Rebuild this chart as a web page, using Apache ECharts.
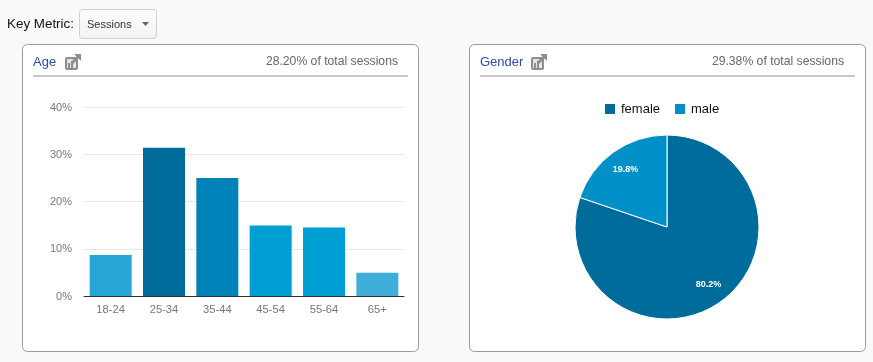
<!DOCTYPE html>
<html><head><meta charset="utf-8">
<style>html,body{margin:0;padding:0;background:#f9f9f9}#c{width:873px;height:362px}</style>
<script src="https://cdn.jsdelivr.net/npm/echarts@6/dist/echarts.min.js"></script>
</head><body><div id="c"></div>
<script>
const ageCategories = ['18-24','25-34','35-44','45-54','55-64','65+'];
const ageValues = [8.7,31.4,25,14.9,14.5,4.9];
const ageColors = ['#27a7d8','#006c9b','#0083b8','#009fd3','#009fd3','#40aeda'];
const genderNames = ['female','male'];
const genderValues = [80.2,19.8];
const genderColors = ['#006c9b','#0090c8'];
const yTicks = [0,10,20,30,40];
const font = '"Liberation Sans", Arial, sans-serif';
const pieCenter = [667,227];

function icon(x,y){
  const c='#8e8e8e';
  return [
    {type:'rect',shape:{x:x,y:y+3,width:13,height:13,r:2},style:{fill:c}},
    {type:'rect',shape:{x:x+2,y:y+5,width:9,height:9},style:{fill:'#e4e4e4'}},
    {type:'rect',shape:{x:x+3,y:y+9,width:2,height:5},style:{fill:c}},
    {type:'rect',shape:{x:x+6,y:y+7,width:2,height:7},style:{fill:c}},
    {type:'polyline',shape:{points:[[x+7,y+9],[x+14,y+2]]},style:{stroke:c,lineWidth:3,fill:null}},
    {type:'polygon',shape:{points:[[x+9,y],[x+16,y],[x+16,y+7]]},style:{fill:c}}
  ];
}
function card(x,w,title,tx,note,noteRight,ix){
  return [
    {type:'rect',shape:{x:x+.5,y:44.5,width:w,height:307,r:5},style:{fill:'#fff',stroke:'#9a9a9a',lineWidth:1}},
    {type:'text',style:{x:tx,y:62.5,text:title,fill:'#2a4f9e',font:'13px '+font,verticalAlign:'middle'}},
    {type:'text',style:{x:noteRight,y:61.5,text:note,fill:'#666',font:'12.2px '+font,align:'right',verticalAlign:'middle'}},
    {type:'rect',shape:{x:tx,y:75,width:w-21,height:2},style:{fill:'#c8c8c8'}},
    ...icon(ix,54)
  ];
}
const graphic = [
  {type:'text',style:{x:7,y:24,text:'Key Metric:',fill:'#111',font:'13.4px '+font,verticalAlign:'middle'}},
  {type:'rect',shape:{x:79.5,y:9.5,width:77,height:29,r:3},style:{fill:{type:'linear',x:0,y:0,x2:0,y2:1,colorStops:[{offset:0,color:'#fefefe'},{offset:1,color:'#f2f2f2'}]},stroke:'#cfcfcf',lineWidth:1}},
  {type:'text',style:{x:87,y:24.5,text:'Sessions',fill:'#333',font:'11px '+font,verticalAlign:'middle'}},
  {type:'polygon',shape:{points:[[142,22],[149,22],[145.5,26]]},style:{fill:'#666'}},
  ...card(22,396,'Age',33,'28.20% of total sessions',398,65),
  ...card(469,396,'Gender',480,'29.38% of total sessions',844,531)
].map(g=>Object.assign(g,{z:g.type==='rect'&&g.shape.height===307?-1:0}));

const chart = echarts.init(document.getElementById('c'),null,{renderer:'canvas'});
chart.setOption({
  animation:false,
  backgroundColor:'#f9f9f9',
  graphic:{elements:graphic},
  grid:{left:84,top:107,width:320,height:189,containLabel:false},
  xAxis:{type:'category',data:ageCategories,
    axisLine:{lineStyle:{color:'#333',width:1}},axisTick:{show:false},
    axisLabel:{color:'#777',fontFamily:font,fontSize:11.2,margin:8}},
  yAxis:{type:'value',min:yTicks[0],max:yTicks[yTicks.length-1],interval:10,
    axisLine:{show:false},axisTick:{show:false},
    splitLine:{lineStyle:{color:'#e8e8e8',width:1}},
    axisLabel:{margin:12,formatter:'{a|{value}%}',
      rich:{a:{color:'#777',fontFamily:font,fontSize:11,padding:[1,0,0,0]}}}},
  legend:{data:genderNames,left:598,top:97,itemWidth:12,itemHeight:12,itemGap:13,icon:'rect',
    textStyle:{color:'#111',fontFamily:font,fontSize:13}},
  series:[
    {type:'bar',barWidth:42,z:3,
     data:ageValues.map((v,i)=>({value:v,itemStyle:{color:ageColors[i]}}))},
    {type:'pie',center:pieCenter,radius:[0,92],startAngle:90,clockwise:true,
     itemStyle:{borderColor:'#fff',borderWidth:1},
     label:{show:true,position:'inside',formatter:'{d}%',color:'#fff',fontFamily:font,fontSize:9,fontWeight:'bold'},
     labelLine:{show:false},emphasis:{disabled:true},
     labelLayout:p=>({
       dx:(p.labelRect.x+p.labelRect.width/2-pieCenter[0])*0.455,
       dy:(p.labelRect.y+p.labelRect.height/2-pieCenter[1])*0.455
     }),
     data:genderNames.map((n,i)=>({name:n,value:genderValues[i],itemStyle:{color:genderColors[i]}}))}
  ]
});
</script></body></html>
